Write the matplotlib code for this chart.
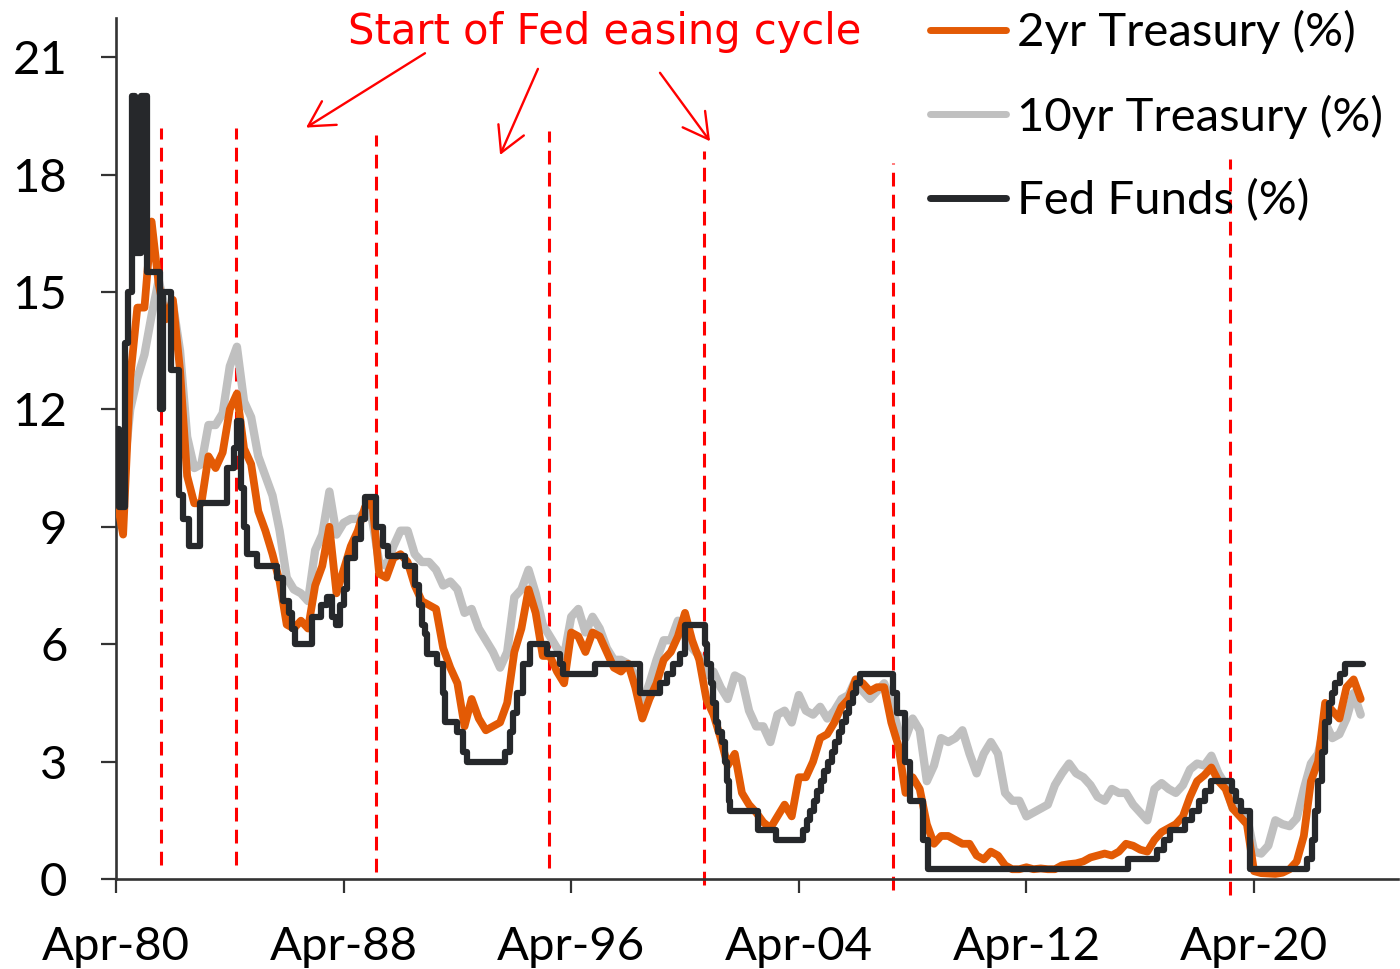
import matplotlib
matplotlib.use("Agg")
import matplotlib.pyplot as plt
import numpy as np
from matplotlib.lines import Line2D

# quarterly observations, first one is Apr-1980 (fractional years on the x axis)
START_YEAR = 1980.25

two_year = [
    9.8, 8.8, 12.8, 14.6, 14.6, 16.8, 15.2, 14.3, 14.8, 13.0, 10.3, 9.6,
    9.6, 10.8, 10.5, 10.9, 12.0, 12.4, 11.0, 10.6, 9.4, 8.9, 8.3, 7.6,
    6.5, 6.4, 6.6, 6.4, 7.5, 8.0, 9.0, 7.3, 7.9, 8.5, 8.9, 9.5,
    9.7, 7.8, 7.7, 8.2, 8.3, 8.1, 7.5, 7.1, 7.0, 6.9, 5.9, 5.4,
    5.0, 3.9, 4.6, 4.1, 3.8, 3.9, 4.0, 4.5, 5.8, 6.4, 7.4, 6.8,
    5.7, 5.7, 5.3, 5.0, 6.3, 6.2, 5.8, 6.3, 6.2, 5.8, 5.4, 5.3,
    5.5, 4.9, 4.1, 4.6, 5.0, 5.6, 5.8, 6.2, 6.8, 6.1, 5.6, 4.6,
    4.2, 3.6, 2.9, 3.2, 2.2, 1.9, 1.7, 1.45, 1.3, 1.6, 1.9, 1.6,
    2.6, 2.6, 3.0, 3.6, 3.7, 4.0, 4.4, 4.6, 5.1, 5.0, 4.8, 4.9,
    4.9, 4.0, 3.4, 2.2, 2.6, 2.3, 1.4, 0.9, 1.1, 1.1, 1.0, 0.9,
    0.9, 0.6, 0.5, 0.7, 0.6, 0.35, 0.25, 0.25, 0.3, 0.25, 0.27, 0.25,
    0.25, 0.35, 0.38, 0.4, 0.45, 0.55, 0.6, 0.65, 0.6, 0.7, 0.9, 0.85,
    0.75, 0.7, 1.0, 1.2, 1.3, 1.4, 1.6, 2.1, 2.5, 2.65, 2.85, 2.5,
    2.3, 1.8, 1.6, 1.4, 0.2, 0.15, 0.14, 0.13, 0.16, 0.25, 0.45, 1.1,
    2.5, 3.0, 4.5, 4.3, 4.1, 4.9, 5.1, 4.6,
]

ten_year = [
    10.9, 10.2, 12.0, 12.8, 13.4, 14.4, 15.3, 14.5, 14.7, 13.5, 11.3, 10.5,
    10.6, 11.6, 11.6, 11.9, 13.1, 13.6, 12.2, 11.8, 10.8, 10.3, 9.8, 8.9,
    7.7, 7.4, 7.3, 7.1, 8.4, 8.8, 9.9, 8.8, 9.1, 9.2, 9.2, 9.4,
    9.2, 8.1, 8.0, 8.5, 8.9, 8.9, 8.3, 8.1, 8.1, 7.9, 7.5, 7.6,
    7.4, 6.8, 6.9, 6.4, 6.1, 5.8, 5.4, 5.8, 7.2, 7.4, 7.9, 7.3,
    6.5, 6.2, 5.9, 5.7, 6.7, 6.9, 6.3, 6.7, 6.4, 5.9, 5.6, 5.6,
    5.5, 5.2, 4.5, 5.0, 5.6, 6.1, 6.1, 6.6, 6.2, 5.9, 5.7, 5.2,
    5.3, 4.9, 4.6, 5.2, 5.1, 4.3, 3.9, 3.9, 3.5, 4.2, 4.3, 4.0,
    4.7, 4.3, 4.2, 4.4, 4.1, 4.3, 4.6, 4.7, 5.1, 4.8, 4.6, 4.8,
    5.0, 4.5, 3.8, 3.6, 4.1, 3.8, 2.5, 2.9, 3.6, 3.5, 3.6, 3.8,
    3.2, 2.7, 3.2, 3.5, 3.2, 2.2, 2.0, 2.0, 1.6, 1.7, 1.8, 1.9,
    2.4, 2.7, 2.95, 2.7, 2.6, 2.4, 2.1, 2.0, 2.3, 2.2, 2.2, 1.9,
    1.7, 1.5, 2.3, 2.45, 2.3, 2.2, 2.4, 2.8, 2.95, 2.9, 3.15, 2.7,
    2.4, 1.8, 1.8, 1.6, 0.7, 0.65, 0.85, 1.5, 1.4, 1.35, 1.55, 2.3,
    2.95, 3.2, 4.0, 3.6, 3.7, 4.1, 4.75, 4.2,
]

# fed funds rate: dates of each change and the level set at that date
fed_dates = [
    1980.25, 1980.35, 1980.57, 1980.66, 1980.80, 1980.93, 1981.14, 1981.33,
    1981.80, 1981.90, 1982.20, 1982.45, 1982.62, 1982.80, 1983.20, 1984.15,
    1984.38, 1984.50, 1984.66, 1984.75, 1984.85, 1985.20, 1985.90, 1986.13,
    1986.32, 1986.45, 1986.54, 1987.13, 1987.45, 1987.65, 1987.85, 1988.00,
    1988.12, 1988.25, 1988.36, 1988.65, 1988.85, 1989.00, 1989.40, 1989.64,
    1989.82, 1990.40, 1990.76, 1990.90, 1991.00, 1991.10, 1991.17, 1991.52,
    1991.75, 1991.82, 1992.22, 1992.45, 1992.57, 1993.92, 1994.10, 1994.20,
    1994.33, 1994.57, 1994.80, 1995.39, 1995.85, 1995.95, 1997.10, 1998.67,
    1999.38, 1999.60, 1999.84, 2000.07, 2000.25, 2000.95, 2001.04, 2001.15,
    2001.25, 2001.33, 2001.42, 2001.55, 2001.65, 2001.72, 2001.78, 2001.83,
    2002.80, 2003.45, 2004.40, 2004.52, 2004.65, 2004.77, 2004.90, 2005.02,
    2005.15, 2005.27, 2005.40, 2005.52, 2005.65, 2005.77, 2005.90, 2006.02,
    2006.15, 2006.27, 2006.40, 2007.57, 2007.69, 2007.98, 2008.16, 2008.63,
    2008.80, 2015.83, 2016.83, 2017.07, 2017.30, 2017.83, 2018.07, 2018.30,
    2018.53, 2018.75, 2019.47, 2019.60, 2019.79, 2020.10, 2022.10, 2022.28,
    2022.39, 2022.51, 2022.63, 2022.75, 2022.87, 2022.98, 2023.10, 2023.27,
    2023.45, 2024.09,
]
fed_levels = [
    11.5, 9.5, 13.7, 15.0, 20.0, 16.0, 20.0, 15.5,
    12.0, 15.0, 13.0, 9.8, 9.2, 8.5, 9.6, 10.5,
    11.0, 11.7, 10.0, 9.0, 8.3, 8.0, 7.7, 7.1,
    6.8, 6.4, 6.0, 6.7, 7.0, 7.2, 6.7, 6.5,
    7.0, 7.4, 8.2, 8.7, 9.2, 9.75, 9.0, 8.5,
    8.25, 8.0, 7.5, 7.0, 6.5, 6.25, 5.75, 5.5,
    4.75, 4.0, 3.75, 3.25, 3.0, 3.25, 3.75, 4.25,
    4.75, 5.5, 6.0, 5.75, 5.5, 5.25, 5.5, 4.75,
    5.0, 5.25, 5.5, 5.75, 6.5, 6.0, 5.5, 5.0,
    4.5, 4.0, 3.75, 3.5, 3.0, 2.5, 2.0, 1.75,
    1.25, 1.0, 1.25, 1.5, 1.75, 2.0, 2.25, 2.5,
    2.75, 3.0, 3.25, 3.5, 3.75, 4.0, 4.25, 4.5,
    4.75, 5.0, 5.25, 4.75, 4.25, 3.0, 2.0, 1.0,
    0.25, 0.5, 0.75, 1.0, 1.25, 1.5, 1.75, 2.0,
    2.25, 2.5, 2.25, 2.0, 1.75, 0.25, 0.5, 1.0,
    1.75, 2.5, 3.25, 4.0, 4.5, 4.75, 5.0, 5.25,
    5.5, 5.5,
]

# start of each Fed easing cycle
easing_starts = [1981.83, 1984.47, 1989.39, 1995.47, 2000.92, 2007.56, 2019.41]
easing_tops = [19.2, 19.2, 19.0, 19.1, 18.6, 18.3, 18.4]
easing_bottoms = [0.35, 0.35, 0.18, 0.28, -0.15, -0.28, -0.41]

tick_years = [1980.25, 1988.25, 1996.25, 2004.25, 2012.25, 2020.25]
tick_labels = ["Apr-80", "Apr-88", "Apr-96", "Apr-04", "Apr-12", "Apr-20"]
y_ticks = [0, 3, 6, 9, 12, 15, 18, 21]

ORANGE = "#E35A05"
GREY = "#C0C0C0"
BLACK = "#26282B"
RED = "#FF0000"

plt.rcParams["font.family"] = ["Lato", "DejaVu Sans"]

fig = plt.figure(figsize=(14, 9.69), dpi=100)
ax = fig.add_axes([116 / 1400, 1 - 879 / 969, 1282 / 1400, 861 / 969])

quarters = START_YEAR + 0.25 * np.arange(len(two_year))

for x, top, bottom in zip(easing_starts, easing_tops, easing_bottoms):
    ax.plot([x, x], [bottom, top], color=RED, lw=2.2, dashes=(4.5, 2.7),
            clip_on=False, zorder=1)

ax.plot(quarters, ten_year, color=GREY, lw=6.0, solid_joinstyle="round",
        solid_capstyle="round", zorder=2)
ax.plot(quarters, two_year, color=ORANGE, lw=5.6, solid_joinstyle="round",
        solid_capstyle="round", zorder=3)
ax.plot(fed_dates, fed_levels, color=BLACK, lw=4.5, drawstyle="steps-post",
        solid_joinstyle="round", solid_capstyle="round", zorder=4)

ax.set_xlim(1980.25, 2025.31)
ax.set_ylim(0, 22)
ax.set_xticks(tick_years)
ax.set_xticklabels(tick_labels)
ax.set_yticks(y_ticks)
ax.tick_params(axis="both", labelsize=34, width=1.6, color="#333333")
ax.tick_params(axis="y", length=11, pad=24)
ax.tick_params(axis="x", length=10, pad=24)
for side in ("top", "right"):
    ax.spines[side].set_visible(False)
for side in ("left", "bottom"):
    ax.spines[side].set_linewidth(1.9)
    ax.spines[side].set_color("#333333")

handles = [
    Line2D([], [], color=ORANGE, lw=5, solid_capstyle="round"),
    Line2D([], [], color=GREY, lw=5, solid_capstyle="round"),
    Line2D([], [], color=BLACK, lw=5, solid_capstyle="round"),
]
fig.legend(handles, ["2yr Treasury (%)", "10yr Treasury (%)", "Fed Funds (%)"],
           loc="upper left", bbox_to_anchor=(930 / 1400, 1 - 10 / 969), frameon=False,
           fontsize=34, handlelength=1.6, handletextpad=0.25, labelspacing=0.86,
           borderpad=0.0, borderaxespad=0.0)

fig.text(605 / 1400, 1 - 32 / 969, "Start of Fed easing cycle", color=RED,
         fontsize=30, ha="center", va="center", family=["DejaVu Sans"])

arrow_tails = [(1991.11, 21.1), (1995.08, 20.7), (1999.37, 20.6)]
arrow_heads = [(1986.93, 19.2), (1993.75, 18.5), (2001.13, 18.85)]
for tail, head in zip(arrow_tails, arrow_heads):
    ax.annotate("", xy=head, xytext=tail, annotation_clip=False,
                arrowprops=dict(arrowstyle="->,head_length=0.9,head_width=0.5",
                                color=RED, lw=1.7, mutation_scale=20,
                                shrinkA=0, shrinkB=0))

fig.savefig("out.png", dpi=100)
